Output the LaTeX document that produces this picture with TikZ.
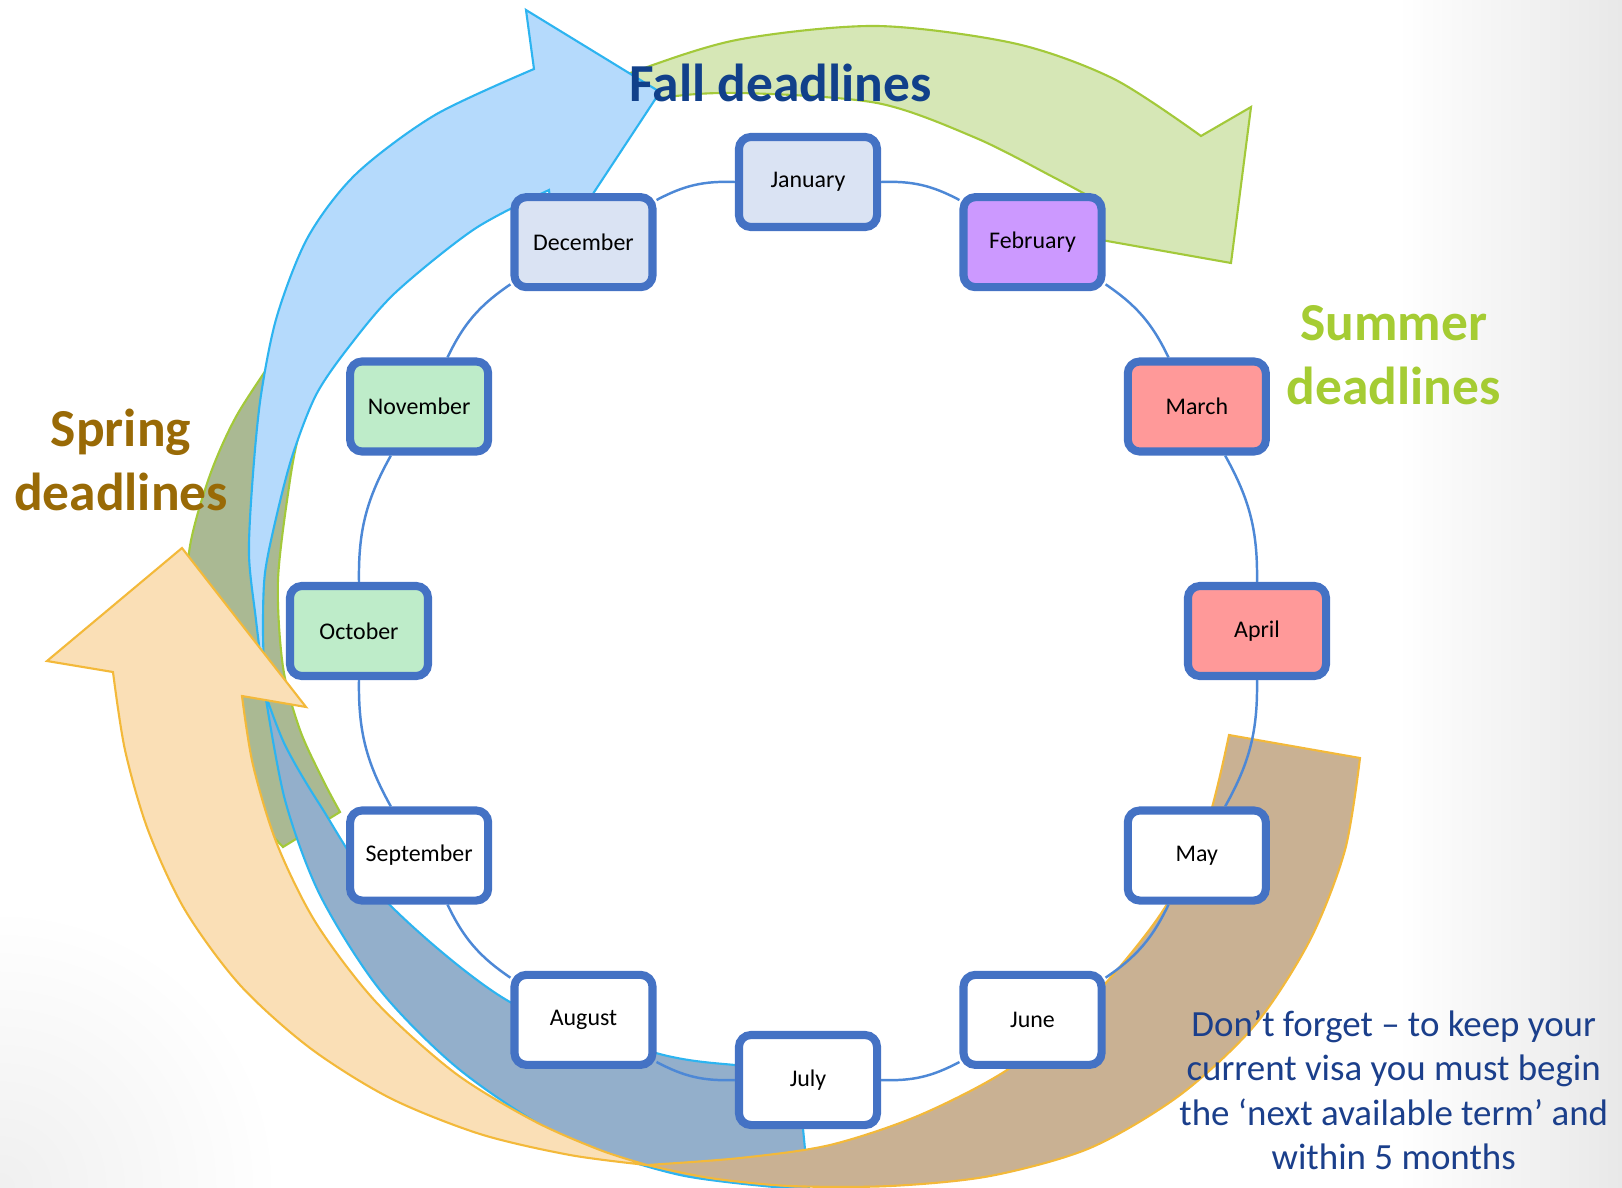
\documentclass[tikz,border=0pt]{standalone}
\usepackage{fontspec}
\setmainfont{Carlito}

\definecolor{boxedge}{HTML}{4472C4}
\definecolor{ringline}{HTML}{4D88D6}
\definecolor{winterfill}{HTML}{DAE3F3}
\definecolor{febfill}{HTML}{CC99FF}
\definecolor{springmonth}{HTML}{FF9999}
\definecolor{autumnfill}{HTML}{BEECC9}
\definecolor{fallfill}{HTML}{B5DAFC}
\definecolor{fallshade}{HTML}{93AFCB}
\definecolor{falledge}{HTML}{2DB4F0}
\definecolor{summerfill}{HTML}{D6E7B6}
\definecolor{summershade}{HTML}{AAB993}
\definecolor{summeredge}{HTML}{A3C93A}
\definecolor{springfill}{HTML}{FADFB6}
\definecolor{springshade}{HTML}{C9B193}
\definecolor{springedge}{HTML}{F3B93A}
\definecolor{falltext}{HTML}{11408A}
\definecolor{summertext}{HTML}{A5CC33}
\definecolor{springtext}{HTML}{996A06}
\definecolor{notetext}{HTML}{1B3F8B}

\begin{document}
\begin{tikzpicture}[x=0.01cm, y=0.01cm,
    monthbox/.style={draw=boxedge, line width=2.3pt, rounded corners=3.4pt, fill=white,
      minimum width=1.38cm, minimum height=0.9cm, inner sep=0pt,
      font=\fontsize{6.8}{8}\selectfont},
    ring/.style={draw=ringline, line width=0.7pt},
    fallface/.style={fill=fallfill, draw=falledge, line width=0.6pt},
    fallrear/.style={fill=fallshade, draw=falledge, line width=0.6pt},
    summerface/.style={fill=summerfill, draw=summeredge, line width=0.6pt},
    summerrear/.style={fill=summershade, draw=summeredge, line width=0.6pt},
    springface/.style={fill=springfill, draw=springedge, line width=0.6pt},
    springrear/.style={fill=springshade, draw=springedge, line width=0.6pt},
    heading/.style={font=\fontsize{15.2}{18.1}\selectfont\bfseries, align=center, anchor=base, inner sep=0pt},
    note/.style={font=\fontsize{10.5}{12.65}\selectfont, text=notetext, align=center, anchor=base, inner sep=0pt}]

  \useasboundingbox (-808,-556) rectangle (814,631);
  \begin{scope}
    \clip (-808,-556) rectangle (814,631);
    \shade[left color=white, right color=black!9] (590,-556) rectangle (814,631);
    \shade[inner color=black!6, outer color=white] (-808,-556) circle[radius=280];
  \end{scope}

  % summer arrow (front, then the turned-over tail)
  \filldraw[summerface] (393,495) -- (443,524) -- (423,368) -- (237,401) -- (288,431)
    -- plot[smooth] coordinates {(288,431) (247,453) (168,493) (69,528) (-69,538) (-152,532) (-248,506) (-328,461) (-398,406) (-458,331) (-492,251)}
    -- plot[smooth] coordinates {(-527,283) (-498,331) (-438,401) (-358,471) (-268,521) (-172,560) (-69,591.5) (69,605) (207,587.5) (306,552) (393,495)} -- cycle;
  \filldraw[summerrear] plot[smooth] coordinates {(-527,283) (-571,216) (-598,156) (-618,85) (-622,11) (-608,-79) (-573,-159) (-525,-216)}
    -- plot[smooth] coordinates {(-468,-181) (-485,-149) (-508,-99) (-525,-36) (-530,51) (-518,151) (-508,201) (-492,251)} -- cycle;

  % fall arrow
  \filldraw[fallface] (-274,562) -- (-282,621) -- (-148,539) -- (-252,381) -- (-259,441)
    -- plot[smooth] coordinates {(-259,441) (-333.5,402) (-413,338) (-460,283) (-492,236) (-515.4,176) (-531,117) (-543,58) (-545,1) (-543,-62)}
    -- plot[smooth] coordinates {(-543,-62) (-552,11) (-559,77) (-555,157) (-547,236) (-531,315) (-500,394) (-452,457) (-373,516) (-274,562)} -- cycle;
  \filldraw[fallrear] plot[smooth] coordinates {(-543,-62) (-523,-169) (-488,-264) (-428,-359) (-348,-439) (-248,-504) (-128,-544) (1,-559)}
    -- plot[smooth] coordinates {(-11,-436) (-73,-434) (-152,-422) (-298,-371) (-423,-269) (-488,-174) (-523,-114) (-543,-62)} -- cycle;

  % spring arrow
  \filldraw[springface] (-695,-41) -- (-761,-30) -- (-626,83) -- (-502,-76) -- (-566,-65)
    -- plot[smooth] coordinates {(-566,-65) (-555,-134) (-531,-213) (-492,-292) (-432,-371) (-353,-442) (-274,-490) (-208,-519) (-161,-534)}
    -- plot[smooth] coordinates {(-161,-534) (-238,-524) (-328,-503) (-418,-467) (-498,-417) (-568,-354) (-623,-279) (-660,-199) (-683,-119) (-695,-41)} -- cycle;
  \filldraw[springrear] plot[smooth] coordinates {(-161,-534) (-68,-527) (22,-514) (112,-484) (202,-437) (282,-369) (352,-284) (397,-199) (421,-104)}
    -- plot[smooth] coordinates {(552,-127) (537,-219) (502,-309) (447,-394) (372,-464) (282,-517) (182,-545) (82,-555) (-18,-555) (-98,-547) (-161,-534)} -- cycle;

  \node[monthbox, fill=winterfill] (jan) at (90:449) {January};
  \node[monthbox, fill=febfill] (feb) at (60:449) {February};
  \node[monthbox, fill=springmonth] (mar) at (30:449) {March};
  \node[monthbox, fill=springmonth] (apr) at (0:449) {April};
  \node[monthbox] (may) at (-30:449) {May};
  \node[monthbox] (jun) at (-60:449) {June};
  \node[monthbox] (jul) at (-90:449) {July};
  \node[monthbox] (aug) at (-120:449) {August};
  \node[monthbox] (sep) at (-150:449) {September};
  \node[monthbox, fill=autumnfill] (oct) at (180:449) {October};
  \node[monthbox, fill=autumnfill] (nov) at (150:449) {November};
  \node[monthbox, fill=winterfill] (dec) at (120:449) {December};
  \draw[ring] (jan) to[bend left=15] (feb);
  \draw[ring] (feb) to[bend left=15] (mar);
  \draw[ring] (mar) to[bend left=15] (apr);
  \draw[ring] (apr) to[bend left=15] (may);
  \draw[ring] (may) to[bend left=15] (jun);
  \draw[ring] (jun) to[bend left=15] (jul);
  \draw[ring] (jul) to[bend left=15] (aug);
  \draw[ring] (aug) to[bend left=15] (sep);
  \draw[ring] (sep) to[bend left=15] (oct);
  \draw[ring] (oct) to[bend left=15] (nov);
  \draw[ring] (nov) to[bend left=15] (dec);
  \draw[ring] (dec) to[bend left=15] (jan);

  \node[heading, text=falltext] (fall) at (-27.5,530) {Fall deadlines};
  \node[heading, text=summertext] (summer) at (585.7,226.5) {Summer\\deadlines};
  \node[heading, text=springtext] (spring) at (-687,121) {Spring\\deadlines};
  \node[note] (visa) at (585.7,-538.5) {Don't forget -- to keep your\\current visa you must begin\\the `next available term' and\\within 5 months};
\end{tikzpicture}
\end{document}
